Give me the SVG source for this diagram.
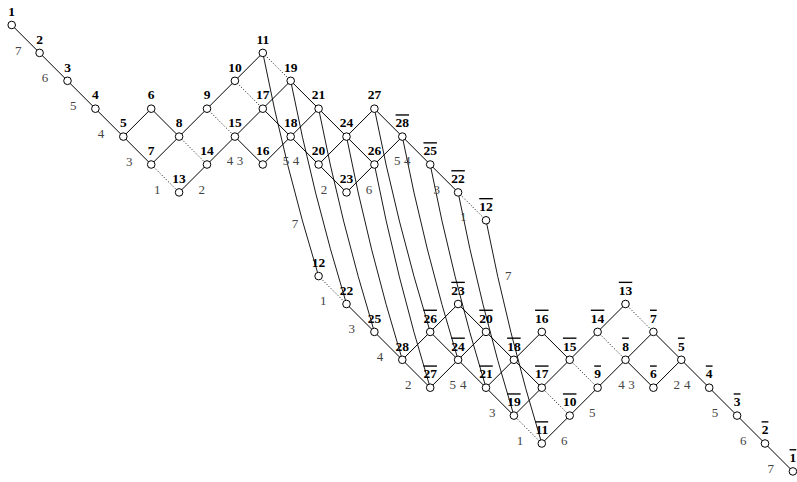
<svg xmlns="http://www.w3.org/2000/svg" width="797" height="482" viewBox="0 0 797 482">
<style>
.e{stroke:#000;stroke-width:1;fill:none}
.d{stroke:#000;stroke-width:1;fill:none;stroke-dasharray:1 2}
.c{stroke:#000;stroke-width:0.9;fill:none}
circle{fill:#fff;stroke:#000;stroke-width:1}
.n text{font-family:"Liberation Serif","DejaVu Serif",serif;font-weight:bold;font-size:13.5px;text-anchor:middle;fill:#000}
.n text.b{text-decoration:overline}
.l text{font-family:"Liberation Serif","DejaVu Serif",serif;font-size:13px;text-anchor:middle;fill:#444}
</style>
<rect width="797" height="482" fill="#fff"/>
<g id="connectors">
<path class="e" d="M11.7 25L39.6 52.9L67.5 80.8L95.4 108.7L123.3 136.6L151.2 108.7L179.1 136.6L207 108.7L234.9 80.8L262.8 52.9"/>
<path class="e" d="M123.3 136.6L151.2 164.5L179.1 136.6"/>
<path class="e" d="M179.1 192.4L207 164.5L234.9 136.6L262.8 108.7L290.7 80.8L318.6 108.7L346.5 136.6L374.4 108.7L402.3 136.6L430.2 164.5L458.1 192.4"/>
<path class="e" d="M234.9 136.6L262.8 164.5L290.7 136.6L318.6 108.7"/>
<path class="e" d="M262.8 108.7L290.7 136.6L318.6 164.5L346.5 192.4L374.4 164.5L402.3 136.6"/>
<path class="e" d="M318.6 164.5L346.5 136.6L374.4 164.5"/>
<path class="d" d="M151.2 164.5L179.1 192.4"/>
<path class="d" d="M179.1 136.6L207 164.5"/>
<path class="d" d="M207 108.7L234.9 136.6"/>
<path class="d" d="M234.9 80.8L262.8 108.7"/>
<path class="d" d="M262.8 52.9L290.7 80.8"/>
<path class="d" d="M458.1 192.4L486 220.3"/>
<path class="e" d="M792.9 471.4L765 443.5L737.1 415.6L709.2 387.7L681.3 359.8L653.4 387.7L625.5 359.8L597.6 387.7L569.7 415.6L541.8 443.5"/>
<path class="e" d="M681.3 359.8L653.4 331.9L625.5 359.8"/>
<path class="e" d="M625.5 304L597.6 331.9L569.7 359.8L541.8 387.7L513.9 415.6L486 387.7L458.1 359.8L430.2 387.7L402.3 359.8L374.4 331.9L346.5 304"/>
<path class="e" d="M569.7 359.8L541.8 331.9L513.9 359.8L486 387.7"/>
<path class="e" d="M541.8 387.7L513.9 359.8L486 331.9L458.1 304L430.2 331.9L402.3 359.8"/>
<path class="e" d="M486 331.9L458.1 359.8L430.2 331.9"/>
<path class="d" d="M653.4 331.9L625.5 304"/>
<path class="d" d="M625.5 359.8L597.6 331.9"/>
<path class="d" d="M597.6 387.7L569.7 359.8"/>
<path class="d" d="M569.7 415.6L541.8 387.7"/>
<path class="d" d="M541.8 443.5L513.9 415.6"/>
<path class="d" d="M346.5 304L318.6 276.1"/>
<path class="c" d="M262.8 52.9Q284.9 166 318.6 276.1"/>
<path class="c" d="M290.7 80.8Q312.8 193.9 346.5 304"/>
<path class="c" d="M318.6 108.7Q340.7 221.8 374.4 331.9"/>
<path class="c" d="M346.5 136.6Q368.6 249.7 402.3 359.8"/>
<path class="c" d="M374.4 108.7Q396.5 221.8 430.2 331.9"/>
<path class="c" d="M374.4 164.5Q396.5 277.6 430.2 387.7"/>
<path class="c" d="M402.3 136.6Q424.4 249.7 458.1 359.8"/>
<path class="c" d="M430.2 164.5Q452.3 277.6 486 387.7"/>
<path class="c" d="M458.1 192.4Q480.2 305.5 513.9 415.6"/>
<path class="c" d="M486 220.3Q508.1 333.4 541.8 443.5"/>
</g>
<g class="l" id="edge-labels">
<text x="18.3" y="54.5">7</text>
<text x="45" y="82.2">6</text>
<text x="73.3" y="110.2">5</text>
<text x="101" y="137.8">4</text>
<text x="129.3" y="165.5">3</text>
<text x="157.3" y="193.5">1</text>
<text x="201.7" y="193.5">2</text>
<text x="230" y="164.5">4</text>
<text x="240" y="164.5">3</text>
<text x="286" y="164.5">5</text>
<text x="296" y="164.5">4</text>
<text x="324" y="193.5">2</text>
<text x="369" y="193.5">6</text>
<text x="397.3" y="165.2">5</text>
<text x="407.3" y="165.2">4</text>
<text x="436.7" y="193.5">3</text>
<text x="463.3" y="221">1</text>
<text x="295" y="227.8">7</text>
<text x="508.3" y="279.5">7</text>
<text x="323.3" y="304.5">1</text>
<text x="351.7" y="332.8">3</text>
<text x="380" y="361.2">4</text>
<text x="408.3" y="388.5">2</text>
<text x="452.7" y="388.5">5</text>
<text x="463.3" y="388.5">4</text>
<text x="492.3" y="416.8">3</text>
<text x="520" y="445.2">1</text>
<text x="564.3" y="445.2">6</text>
<text x="592.3" y="416.8">5</text>
<text x="621.5" y="388.8">4</text>
<text x="631.5" y="388.8">3</text>
<text x="676.7" y="388.8">2</text>
<text x="687.3" y="388.8">4</text>
<text x="715" y="417.2">5</text>
<text x="743.3" y="444.5">6</text>
<text x="770.7" y="472.8">7</text>
</g>
<g class="n">
<g id="n1"><circle cx="11.7" cy="25" r="3.8"/><text x="11.7" y="15.7">1</text></g>
<g id="n2"><circle cx="39.6" cy="52.9" r="3.8"/><text x="39.6" y="43.6">2</text></g>
<g id="n3"><circle cx="67.5" cy="80.8" r="3.8"/><text x="67.5" y="71.5">3</text></g>
<g id="n4"><circle cx="95.4" cy="108.7" r="3.8"/><text x="95.4" y="99.4">4</text></g>
<g id="n5"><circle cx="123.3" cy="136.6" r="3.8"/><text x="123.3" y="127.3">5</text></g>
<g id="n6"><circle cx="151.2" cy="108.7" r="3.8"/><text x="151.2" y="99.4">6</text></g>
<g id="n7"><circle cx="151.2" cy="164.5" r="3.8"/><text x="151.2" y="155.2">7</text></g>
<g id="n8"><circle cx="179.1" cy="136.6" r="3.8"/><text x="179.1" y="127.3">8</text></g>
<g id="n13"><circle cx="179.1" cy="192.4" r="3.8"/><text x="179.1" y="183.1">13</text></g>
<g id="n9"><circle cx="207" cy="108.7" r="3.8"/><text x="207" y="99.4">9</text></g>
<g id="n14"><circle cx="207" cy="164.5" r="3.8"/><text x="207" y="155.2">14</text></g>
<g id="n10"><circle cx="234.9" cy="80.8" r="3.8"/><text x="234.9" y="71.5">10</text></g>
<g id="n15"><circle cx="234.9" cy="136.6" r="3.8"/><text x="234.9" y="127.3">15</text></g>
<g id="n11"><circle cx="262.8" cy="52.9" r="3.8"/><text x="262.8" y="43.6">11</text></g>
<g id="n17"><circle cx="262.8" cy="108.7" r="3.8"/><text x="262.8" y="99.4">17</text></g>
<g id="n16"><circle cx="262.8" cy="164.5" r="3.8"/><text x="262.8" y="155.2">16</text></g>
<g id="n19"><circle cx="290.7" cy="80.8" r="3.8"/><text x="290.7" y="71.5">19</text></g>
<g id="n18"><circle cx="290.7" cy="136.6" r="3.8"/><text x="290.7" y="127.3">18</text></g>
<g id="n21"><circle cx="318.6" cy="108.7" r="3.8"/><text x="318.6" y="99.4">21</text></g>
<g id="n20"><circle cx="318.6" cy="164.5" r="3.8"/><text x="318.6" y="155.2">20</text></g>
<g id="n24"><circle cx="346.5" cy="136.6" r="3.8"/><text x="346.5" y="127.3">24</text></g>
<g id="n23"><circle cx="346.5" cy="192.4" r="3.8"/><text x="346.5" y="183.1">23</text></g>
<g id="n27"><circle cx="374.4" cy="108.7" r="3.8"/><text x="374.4" y="99.4">27</text></g>
<g id="n26"><circle cx="374.4" cy="164.5" r="3.8"/><text x="374.4" y="155.2">26</text></g>
<g id="n28b"><circle cx="402.3" cy="136.6" r="3.8"/><text class="b" x="402.3" y="127.3">28</text></g>
<g id="n25b"><circle cx="430.2" cy="164.5" r="3.8"/><text class="b" x="430.2" y="155.2">25</text></g>
<g id="n22b"><circle cx="458.1" cy="192.4" r="3.8"/><text class="b" x="458.1" y="183.1">22</text></g>
<g id="n12b"><circle cx="486" cy="220.3" r="3.8"/><text class="b" x="486" y="211">12</text></g>
<g id="n12"><circle cx="318.6" cy="276.1" r="3.8"/><text x="318.6" y="266.8">12</text></g>
<g id="n22"><circle cx="346.5" cy="304" r="3.8"/><text x="346.5" y="294.7">22</text></g>
<g id="n25"><circle cx="374.4" cy="331.9" r="3.8"/><text x="374.4" y="322.6">25</text></g>
<g id="n28"><circle cx="402.3" cy="359.8" r="3.8"/><text x="402.3" y="350.5">28</text></g>
<g id="n26b"><circle cx="430.2" cy="331.9" r="3.8"/><text class="b" x="430.2" y="322.6">26</text></g>
<g id="n27b"><circle cx="430.2" cy="387.7" r="3.8"/><text class="b" x="430.2" y="378.4">27</text></g>
<g id="n23b"><circle cx="458.1" cy="304" r="3.8"/><text class="b" x="458.1" y="294.7">23</text></g>
<g id="n24b"><circle cx="458.1" cy="359.8" r="3.8"/><text class="b" x="458.1" y="350.5">24</text></g>
<g id="n20b"><circle cx="486" cy="331.9" r="3.8"/><text class="b" x="486" y="322.6">20</text></g>
<g id="n21b"><circle cx="486" cy="387.7" r="3.8"/><text class="b" x="486" y="378.4">21</text></g>
<g id="n18b"><circle cx="513.9" cy="359.8" r="3.8"/><text class="b" x="513.9" y="350.5">18</text></g>
<g id="n19b"><circle cx="513.9" cy="415.6" r="3.8"/><text class="b" x="513.9" y="406.3">19</text></g>
<g id="n16b"><circle cx="541.8" cy="331.9" r="3.8"/><text class="b" x="541.8" y="322.6">16</text></g>
<g id="n17b"><circle cx="541.8" cy="387.7" r="3.8"/><text class="b" x="541.8" y="378.4">17</text></g>
<g id="n11b"><circle cx="541.8" cy="443.5" r="3.8"/><text class="b" x="541.8" y="434.2">11</text></g>
<g id="n15b"><circle cx="569.7" cy="359.8" r="3.8"/><text class="b" x="569.7" y="350.5">15</text></g>
<g id="n10b"><circle cx="569.7" cy="415.6" r="3.8"/><text class="b" x="569.7" y="406.3">10</text></g>
<g id="n14b"><circle cx="597.6" cy="331.9" r="3.8"/><text class="b" x="597.6" y="322.6">14</text></g>
<g id="n9b"><circle cx="597.6" cy="387.7" r="3.8"/><text class="b" x="597.6" y="378.4">9</text></g>
<g id="n13b"><circle cx="625.5" cy="304" r="3.8"/><text class="b" x="625.5" y="294.7">13</text></g>
<g id="n8b"><circle cx="625.5" cy="359.8" r="3.8"/><text class="b" x="625.5" y="350.5">8</text></g>
<g id="n7b"><circle cx="653.4" cy="331.9" r="3.8"/><text class="b" x="653.4" y="322.6">7</text></g>
<g id="n6b"><circle cx="653.4" cy="387.7" r="3.8"/><text class="b" x="653.4" y="378.4">6</text></g>
<g id="n5b"><circle cx="681.3" cy="359.8" r="3.8"/><text class="b" x="681.3" y="350.5">5</text></g>
<g id="n4b"><circle cx="709.2" cy="387.7" r="3.8"/><text class="b" x="709.2" y="378.4">4</text></g>
<g id="n3b"><circle cx="737.1" cy="415.6" r="3.8"/><text class="b" x="737.1" y="406.3">3</text></g>
<g id="n2b"><circle cx="765" cy="443.5" r="3.8"/><text class="b" x="765" y="434.2">2</text></g>
<g id="n1b"><circle cx="792.9" cy="471.4" r="3.8"/><text class="b" x="792.9" y="462.1">1</text></g>
</g>
</svg>
